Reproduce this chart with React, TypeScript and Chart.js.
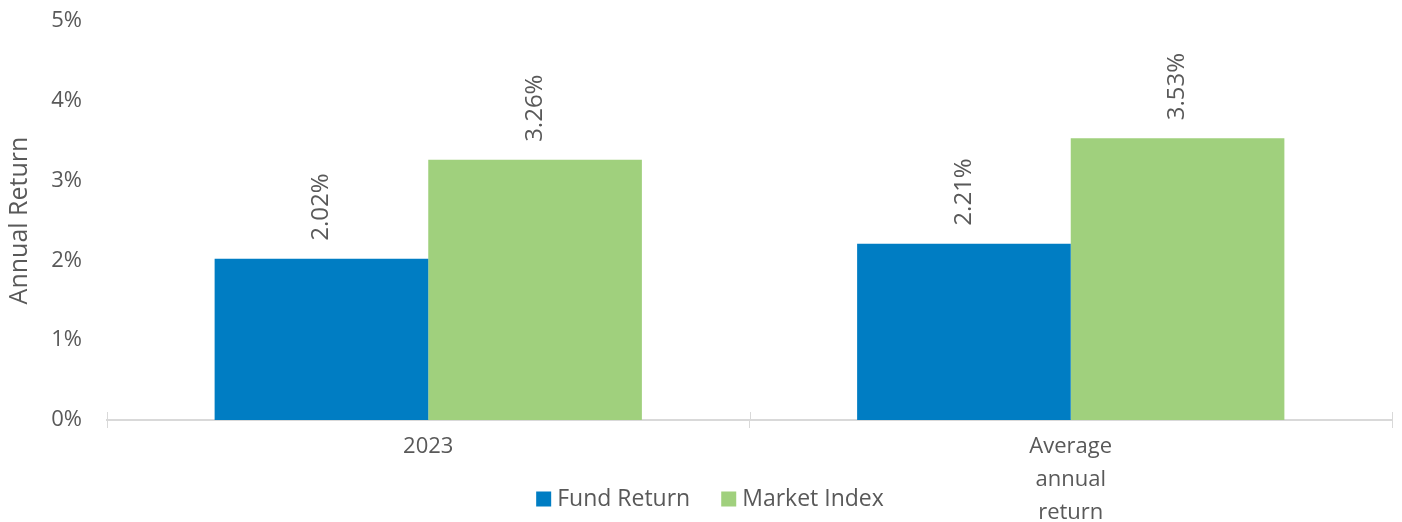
import React, { useEffect, useRef } from "react";
import { Chart, registerables } from "chart.js";

Chart.register(...registerables);

const categories: (string | string[])[] = ["2023", ["Average", "annual", "return"]];
const fundReturn = [2.02, 2.21];
const marketIndex = [3.26, 3.53];
const yTicks = [0, 1, 2, 3, 4, 5];
const seriesNames = ["Fund Return", "Market Index"];
const seriesColors = ["#007DC3", "#A0D07D"];

const FONT = "'Open Sans', Lato, sans-serif";
const TEXT = "#595959";
const AXIS = "#D9D9D9";

const labelPlugin = {
  id: "barLabels",
  afterDatasetsDraw(chart: any) {
    const ctx = chart.ctx;
    ctx.save();
    ctx.font = `24px ${FONT}`;
    ctx.fillStyle = TEXT;
    chart.data.datasets.forEach((ds: any, di: number) => {
      const meta = chart.getDatasetMeta(di);
      meta.data.forEach((bar: any, i: number) => {
        const v = ds.data[i];
        ctx.save();
        ctx.translate(bar.x, bar.y - 18);
        ctx.rotate(-Math.PI / 2);
        ctx.textAlign = "left";
        ctx.textBaseline = "middle";
        ctx.fillText(v.toFixed(2) + "%", 0, 0);
        ctx.restore();
      });
    });
    ctx.restore();
  },
};

const axisTickPlugin = {
  id: "axisTicksAbove",
  afterDraw(chart: any) {
    const ctx = chart.ctx;
    const xs = chart.scales.x;
    const y = chart.chartArea.bottom;
    const n = chart.data.labels.length;
    ctx.save();
    ctx.strokeStyle = AXIS;
    ctx.lineWidth = 1;
    for (let i = 0; i <= n; i++) {
      const px = Math.round(xs.getPixelForValue(i - 0.5)) + 0.5;
      ctx.beginPath();
      ctx.moveTo(px, y - 8);
      ctx.lineTo(px, y);
      ctx.stroke();
    }
    ctx.restore();
  },
};

const legendPlugin = {
  id: "customLegend",
  afterDraw(chart: any) {
    const ctx = chart.ctx;
    ctx.save();
    ctx.font = `23px ${FONT}`;
    ctx.textBaseline = "middle";
    ctx.textAlign = "left";
    const box = 15;
    const gapBoxText = 6;
    const gapItems = 31;
    const widths = seriesNames.map((s) => box + gapBoxText + ctx.measureText(s).width);
    const total = widths.reduce((a, b) => a + b, 0) + gapItems * (seriesNames.length - 1);
    let x = chart.width / 2 + 9 - total / 2;
    const cy = 499;
    seriesNames.forEach((s, i) => {
      ctx.fillStyle = seriesColors[i];
      ctx.fillRect(x, cy - box / 2, box, box);
      ctx.fillStyle = TEXT;
      ctx.fillText(s, x + box + gapBoxText, cy);
      x += widths[i] + gapItems;
    });
    ctx.restore();
  },
};

export default function App() {
  const ref = useRef<HTMLCanvasElement>(null);
  useEffect(() => {
    document.body.style.margin = "0";
    document.body.style.overflow = "hidden";
    const chart = new Chart(ref.current!, {
      type: "bar",
      data: {
        labels: categories as any,
        datasets: [
          {
            label: seriesNames[0],
            data: fundReturn,
            backgroundColor: seriesColors[0],
            categoryPercentage: 0.665,
            barPercentage: 1,
          },
          {
            label: seriesNames[1],
            data: marketIndex,
            backgroundColor: seriesColors[1],
            categoryPercentage: 0.665,
            barPercentage: 1,
          },
        ],
      },
      options: {
        animation: false,
        responsive: false,
        maintainAspectRatio: false,
        layout: { autoPadding: false, padding: { top: 21, right: 10, left: 0, bottom: 0 } },
        plugins: {
          legend: { display: false },
          tooltip: { enabled: false },
        },
        scales: {
          x: {
            grid: {
              display: true,
              drawOnChartArea: false,
              drawTicks: true,
              tickLength: 8,
              color: AXIS,
              offset: true,
            },
            border: { display: true, color: AXIS, width: 2 },
            ticks: {
              color: TEXT,
              font: { family: FONT, size: 22, lineHeight: 1.5 },
              padding: 2,
              maxRotation: 0,
              autoSkip: false,
            },
            afterFit(scale: any) {
              scale.height = 102;
            },
          },
          y: {
            min: 0,
            max: 5,
            afterBuildTicks(scale: any) {
              scale.ticks = yTicks.map((v) => ({ value: v }));
            },
            grid: { display: false, drawTicks: false },
            border: { display: false },
            ticks: {
              color: TEXT,
              font: { family: FONT, size: 22 },
              padding: 25,
              callback: (v: any) => v + "%",
            },
            title: {
              display: true,
              text: "Annual Return",
              color: TEXT,
              font: { family: FONT, size: 25 },
              padding: { top: 5, bottom: 0 },
            },
            afterFit(scale: any) {
              scale.width = 107;
              scale.paddingTop = 0;
              scale.paddingBottom = 0;
            },
          },
        },
      },
      plugins: [labelPlugin, axisTickPlugin, legendPlugin],
    });
    return () => chart.destroy();
  }, []);
  return (
    <div style={{ width: 1402, height: 522 }}>
      <canvas ref={ref} width={1402} height={522} style={{ width: 1402, height: 522 }} />
    </div>
  );
}
